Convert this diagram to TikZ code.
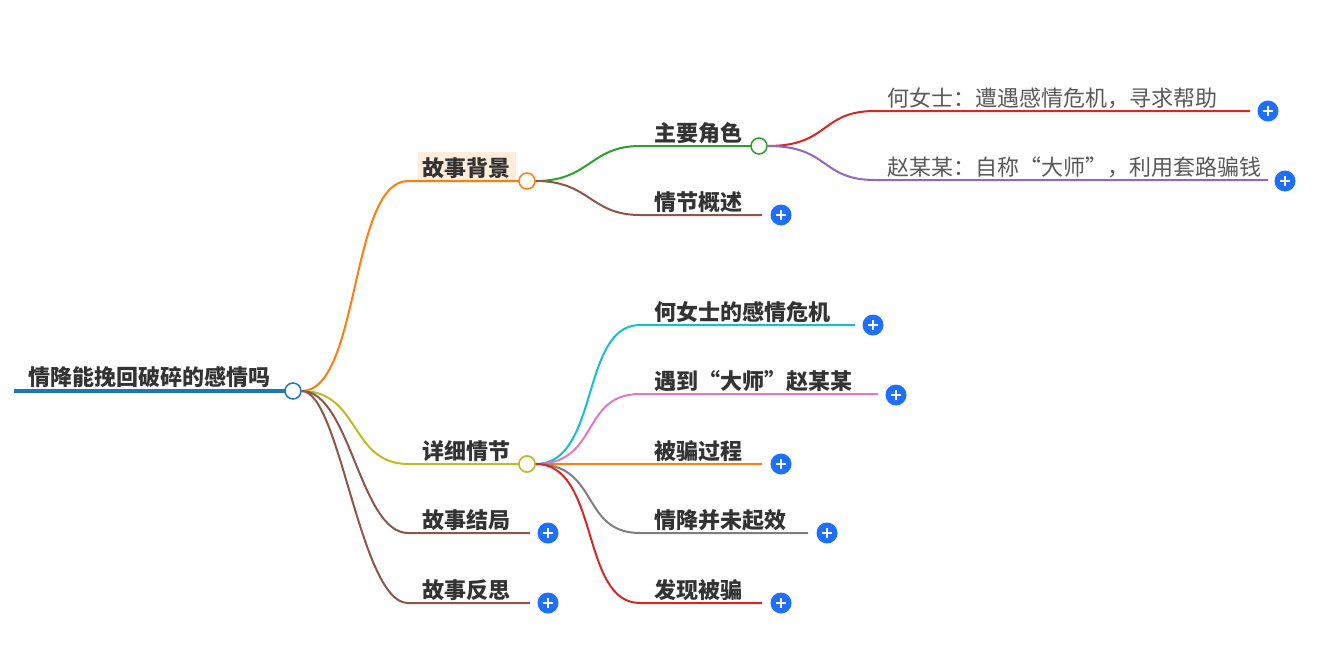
\documentclass[tikz,border=0pt]{standalone}
\usepackage{fontspec}
\setmainfont{Noto Sans CJK SC}
\begin{document}
\begin{tikzpicture}[x=1pt,y=-1pt,
 lbl/.style={anchor=south west,inner sep=0pt,font=\fontsize{22}{22}\selectfont\bfseries,text=black!80},
 lbn/.style={anchor=south west,inner sep=0pt,font=\fontsize{22}{22}\selectfont,text=black!65},
 knot/.style={circle,draw,line width=1.5pt,fill=white,minimum size=16pt,inner sep=0pt},
 plus/.style={circle,fill=plusblue,minimum size=21pt,inner sep=0pt,path picture={\draw[white,line width=1.6pt](path picture bounding box.center)++(-5,0)--++(10,0);\draw[white,line width=1.6pt](path picture bounding box.center)++(0,-5)--++(0,10);}},
 br/.style={line width=2pt}]
\definecolor{plusblue}{HTML}{1F6FFF}
\definecolor{cblue}{HTML}{1F77B4}
\definecolor{corange}{HTML}{FF7F0E}
\definecolor{colive}{HTML}{BCBD22}
\definecolor{cbrown}{HTML}{8C564B}
\definecolor{cgreen}{HTML}{2CA02C}
\definecolor{cred}{HTML}{D62728}
\definecolor{cpurple}{HTML}{9467BD}
\definecolor{ccyan}{HTML}{17BECF}
\definecolor{cpink}{HTML}{E377C2}
\definecolor{cgray}{HTML}{7F7F7F}
\useasboundingbox (0,0) rectangle (1326,672);
% root
\draw[cblue,line width=4pt] (14,391) -- (290,391);
\node[lbl] (rt) at (28,388) {情降能挽回破碎的感情吗};
\node[knot,draw=cblue] (r) at (293,391) {};
% level 1
\fill[corange!15] (418,152) rectangle (516,180);
\node[lbl] (t1) at (422,179) {故事背景};
\node[lbl] (t2) at (422,462) {详细情节};
\node[lbl] (t3) at (422,531) {故事结局};
\node[lbl] (t4) at (422,601) {故事反思};
\draw[br,corange] (r.east) .. controls (360,391) and (350,181) .. (408,181) -- (519,181);
\draw[br,colive] (r.east) .. controls (360,391) and (350,464) .. (408,464) -- (519,464);
\draw[br,cbrown] (r.east) .. controls (350,391) and (360,533) .. (408,533) -- (530,533);
\draw[br,cbrown] (r.east) .. controls (340,391) and (360,603) .. (408,603) -- (530,603);
\node[knot,draw=corange] (k1) at (527,181) {};
\node[knot,draw=colive] (k2) at (527,464) {};
\node[plus] (p3) at (548,533) {};
\node[plus] (p4) at (548,603) {};
% level 2 under 故事背景
\node[lbl] (s1) at (654,144) {主要角色};
\node[lbl] (s2) at (654,213) {情节概述};
\draw[br,cgreen] (k1.east) .. controls (590,181) and (590,146) .. (640,146) -- (751,146);
\draw[br,cbrown] (k1.east) .. controls (590,181) and (590,215) .. (640,215) -- (762,215);
\node[knot,draw=cgreen] (k3) at (759,146) {};
\node[plus] (p5) at (781,215) {};
% level 3
\node[lbn] (u1) at (887,109) {何女士：遭遇感情危机，寻求帮助};
\node[lbn] (u2) at (887,178) {赵某某：自称“大师”，利用套路骗钱};
\draw[br,cred] (k3.east) .. controls (830,146) and (820,111) .. (875,111) -- (1250,111);
\draw[br,cpurple] (k3.east) .. controls (830,146) and (820,180) .. (875,180) -- (1268,180);
\node[plus] (p6) at (1268,111) {};
\node[plus] (p7) at (1285,181) {};
% level 2 under 详细情节
\node[lbl] (d1) at (654,323) {何女士的感情危机};
\node[lbl] (d2) at (654,392) {遇到“大师”赵某某};
\node[lbl] (d3) at (654,462) {被骗过程};
\node[lbl] (d4) at (654,531) {情降并未起效};
\node[lbl] (d5) at (654,601) {发现被骗};
\draw[br,ccyan] (k2.east) .. controls (600,464) and (580,325) .. (640,325) -- (855,325);
\draw[br,cpink] (k2.east) .. controls (600,464) and (580,394) .. (640,394) -- (878,394);
\draw[br,corange] (k2.east) -- (762,464);
\draw[br,cgray] (k2.east) .. controls (600,464) and (580,533) .. (640,533) -- (808,533);
\draw[br,cred] (k2.east) .. controls (600,464) and (580,603) .. (640,603) -- (762,603);
\node[knot,draw=colive] at (527,464) {};
\node[plus] (q1) at (873,325) {};
\node[plus] (q2) at (896,395) {};
\node[plus] (q3) at (781,464) {};
\node[plus] (q4) at (827,533) {};
\node[plus] (q5) at (781,603) {};
\end{tikzpicture}
\end{document}
